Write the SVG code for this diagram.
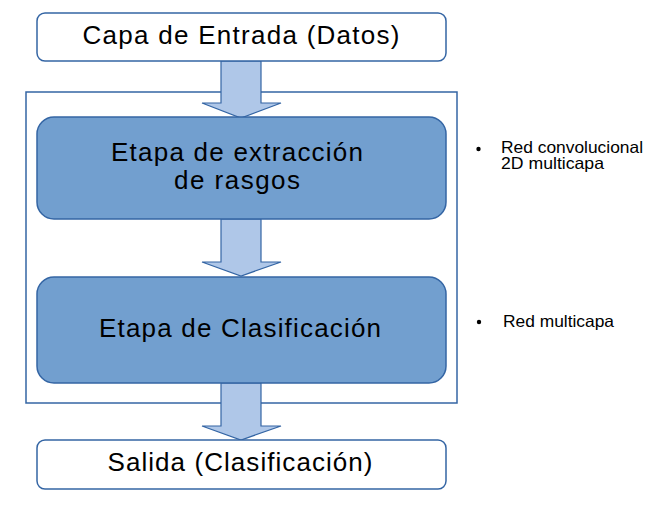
<svg xmlns="http://www.w3.org/2000/svg" width="668" height="506" viewBox="0 0 668 506">
<style>
.t{font-family:"Liberation Sans",Arial,sans-serif;fill:#000;text-anchor:middle}
.big{font-size:26px}
.sm{font-size:16.5px;text-anchor:start}
.wbox{fill:#fff;stroke:#3465a4;stroke-width:1.5}
.bbox{fill:#729fcf;stroke:#3465a4;stroke-width:1.5}
.arr{fill:#afc7e8;stroke:#3465a4;stroke-width:1.2}
</style>
<rect width="668" height="506" fill="#fff"/>
<g id="container"><rect x="26" y="92" width="431" height="311" fill="#fff" stroke="#3465a4" stroke-width="1.5"/></g>
<g id="connectors">
<path class="arr" d="M221,61 H261 V103 H281 L241,118 L202,103 H221 Z"/>
<path class="arr" d="M221,219 H261 V262 H281 L241,276 L202,262 H221 Z"/>
<path class="arr" d="M221,383 H261 V426 H281 L241,440 L202,426 H221 Z"/>
</g>
<g id="input"><rect class="wbox" x="37" y="13" width="409" height="48" rx="8"/>
<text class="t big" x="241" y="43.5" textLength="317" lengthAdjust="spacing">Capa de Entrada (Datos)</text></g>
<g id="extraction"><rect class="bbox" x="37" y="117" width="409" height="102" rx="17"/>
<text class="t big" x="237" y="161" textLength="252" lengthAdjust="spacing">Etapa de extracción</text>
<text class="t big" x="237" y="189" textLength="126" lengthAdjust="spacing">de rasgos</text></g>
<g id="classification"><rect class="bbox" x="37" y="277" width="409" height="106" rx="17"/>
<text class="t big" x="240" y="337" textLength="282" lengthAdjust="spacing">Etapa de Clasificación</text></g>
<g id="output"><rect class="wbox" x="37" y="440" width="409" height="49" rx="8"/>
<text class="t big" x="240" y="471" textLength="265" lengthAdjust="spacing">Salida (Clasificación)</text></g>
<g id="note1">
<circle cx="478.5" cy="149" r="2.2" fill="#000"/>
<text class="t sm" x="501" y="153" textLength="142" lengthAdjust="spacingAndGlyphs">Red convolucional</text>
<text class="t sm" x="501" y="168.5" textLength="103" lengthAdjust="spacingAndGlyphs">2D multicapa</text></g>
<g id="note2">
<circle cx="479" cy="322" r="2.2" fill="#000"/>
<text class="t sm" x="503" y="327" textLength="111" lengthAdjust="spacingAndGlyphs">Red multicapa</text></g>
</svg>
